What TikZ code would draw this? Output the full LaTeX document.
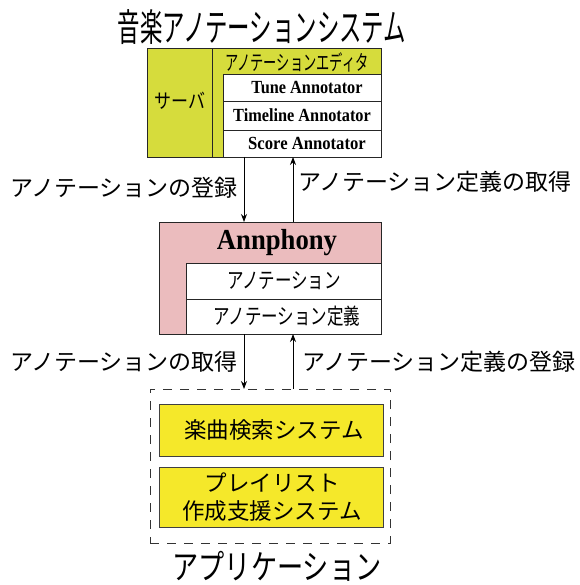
\documentclass[tikz,border=0pt]{standalone}
\usepackage{fontspec}
\setmainfont{Liberation Serif}
\newfontfamily\jp{Noto Sans CJK JP}
\usetikzlibrary{arrows.meta}
\definecolor{yg}{HTML}{D6DC3C}
\definecolor{pk}{HTML}{EBBCBE}
\definecolor{yl}{HTML}{F5E82A}
\begin{document}
\begin{tikzpicture}[x=1pt,y=-1pt,
  box/.style={draw=black!85, line width=0.9pt, inner sep=0pt, outer sep=0pt, anchor=north west},
  appbox/.style={draw=black!75, line width=0.7pt, fill=yl, inner sep=0pt, outer sep=0pt, anchor=north west, minimum width=224pt},
  txt/.style={inner sep=0pt, outer sep=0pt},
  arr/.style={line width=0.8pt, -{Stealth[length=8pt,width=6pt]}},
  lbl/.style={inner sep=0pt, font=\jp\fontsize{23}{25}\selectfont},
  bold/.style={inner sep=0pt, font=\bfseries\fontsize{18.5}{20}\selectfont},
]
\useasboundingbox (0,0) rectangle (579,585);

% title
\node[txt] (title) at (262,27) {\scalebox{0.59}[1]{\jp\fontsize{38}{40}\selectfont 音楽アノテーションシステム}};

% server block
\node[box, fill=yg, minimum width=234pt, minimum height=109pt] (server) at (147,48) {};
\node[box, fill=yg, minimum width=169pt, minimum height=109pt] (editor) at (212,48) {};
\node[box, fill=white, minimum width=158pt, minimum height=27pt] (tune) at (223,74) {};
\node[box, fill=white, minimum width=158pt, minimum height=29pt] (timeline) at (223,101) {};
\node[box, fill=white, minimum width=158pt, minimum height=27pt] (score) at (223,130) {};
\node[txt] (servert) at (180,101) {\scalebox{0.85}[1]{\jp\fontsize{20}{22}\selectfont サーバ}};
\node[txt] (editort) at (297,62) {\scalebox{0.63}[1]{\jp\fontsize{21}{23}\selectfont アノテーションエディタ}};
\node[bold] (tunet) at (307,87.5) {\scalebox{0.88}[1]{Tune Annotator}};
\node[bold] (timelinet) at (302,115.5) {\scalebox{0.88}[1]{Timeline Annotator}};
\node[bold] (scoret) at (307,143.5) {\scalebox{0.9}[1]{Score Annotator}};

% Annphony block
\node[box, fill=pk, minimum width=222pt, minimum height=112pt] (annphony) at (159,222) {};
\node[box, fill=white, minimum width=195pt, minimum height=36pt] (anno) at (186,263) {};
\node[box, fill=white, minimum width=195pt, minimum height=35pt] (annodef) at (186,299) {};
\node[txt] (annphonyt) at (277,243) {\scalebox{0.92}[1]{\bfseries\fontsize{29}{31}\selectfont Annphony}};
\node[txt] (annot) at (284,281) {\scalebox{0.75}[1]{\jp\fontsize{22}{24}\selectfont アノテーション}};
\node[txt] (annodeft) at (287,316.5) {\scalebox{0.75}[1]{\jp\fontsize{22}{24}\selectfont アノテーション定義}};

% application block
\node[box, draw=black!80, line width=0.8pt, dash pattern=on 9pt off 8pt, minimum width=240pt, minimum height=154pt] (app) at (150,389) {};
\node[appbox, minimum height=52pt] (search) at (159,404) {};
\node[appbox, minimum height=60pt] (playlist) at (159,467) {};
\node[lbl, font=\jp\fontsize{22.5}{25}\selectfont] (searcht) at (274,430) {楽曲検索システム};
\node[lbl, align=center, font=\jp\fontsize{22.5}{28}\selectfont] (playlistt) at (272,497) {プレイリスト\\作成支援システム};
\node[txt] (appt) at (277,566) {\scalebox{0.77}[1]{\jp\fontsize{34}{36}\selectfont アプリケーション}};

% connectors
\coordinate (xa) at (244,0);
\coordinate (xb) at (293,0);
\draw[arr] (server.south -| xa) -- (annphony.north -| xa);
\draw[arr] (annphony.north -| xb) -- (server.south -| xb);
\draw[arr] (annphony.south -| xa) -- (app.north -| xa);
\draw[arr] (app.north -| xb) -- (annphony.south -| xb);

% connector labels
\node[lbl, anchor=east] (l1) at (238,188) {アノテーションの登録};
\node[lbl, anchor=west] (l2) at (298,182) {アノテーション定義の取得};
\node[lbl, anchor=east] (l3) at (238,362) {アノテーションの取得};
\node[lbl, anchor=west] (l4) at (302,362) {アノテーション定義の登録};
\end{tikzpicture}
\end{document}
